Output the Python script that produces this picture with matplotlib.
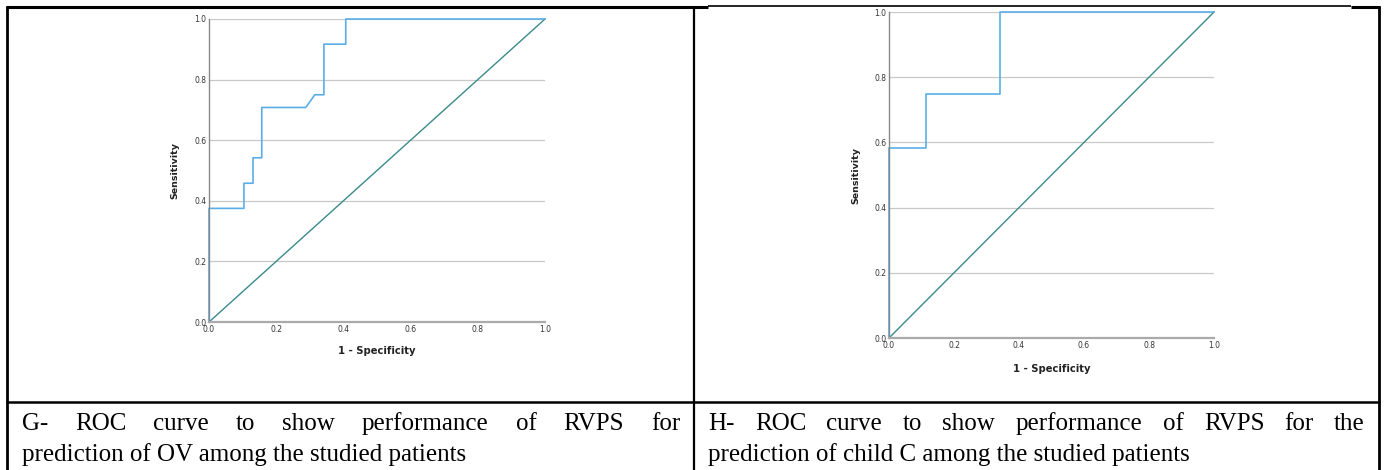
import matplotlib
matplotlib.use("Agg")
import matplotlib.pyplot as plt

W, H = 1384, 470

# ROC G: RVPS for prediction of OV
fpr_g = [0.0, 0.0, 0.104, 0.104, 0.131, 0.131, 0.157, 0.157, 0.288, 0.315, 0.342, 0.342, 0.407, 0.407, 1.0]
tpr_g = [0.0, 0.375, 0.375, 0.458, 0.458, 0.542, 0.542, 0.708, 0.708, 0.75, 0.75, 0.917, 0.917, 1.0, 1.0]

# ROC H: RVPS for prediction of child C
fpr_h = [0.0, 0.0, 0.114, 0.114, 0.342, 0.342, 1.0]
tpr_h = [0.0, 0.583, 0.583, 0.75, 0.75, 1.0, 1.0]

ticks = [0.0, 0.2, 0.4, 0.6, 0.8, 1.0]
tick_labels = ["0.0", "0.2", "0.4", "0.6", "0.8", "1.0"]

caption_g = ["G- ROC curve to show performance of RVPS for",
             "prediction of OV among the studied patients"]
caption_h = ["H- ROC curve to show performance of RVPS for the",
             "prediction of child C among the studied patients"]

fig = plt.figure(figsize=(W / 100, H / 100), dpi=100)

# overlay in pixel coords for the table and captions
ov = fig.add_axes([0, 0, 1, 1])
ov.set_xlim(0, W)
ov.set_ylim(H, 0)
ov.axis("off")


def roc_axes(box, fpr, tpr, ylab_x, xlab_y):
    l, t, r, b = box
    ax = fig.add_axes([l / W, 1 - b / H, (r - l) / W, (b - t) / H])
    ax.set_xlim(0, 1)
    ax.set_ylim(0, 1)
    ax.set_xticks(ticks)
    ax.set_xticklabels(tick_labels)
    ax.set_yticks(ticks)
    ax.set_yticklabels(tick_labels)
    ax.tick_params(length=0, labelsize=5.5, labelcolor="#333333", pad=2)
    ax.grid(axis="y", color="#c8c8c8", lw=0.9)
    ax.set_axisbelow(True)
    for s in ["top", "right"]:
        ax.spines[s].set_visible(False)
    ax.spines["left"].set_color("#888888")
    ax.spines["left"].set_linewidth(1.0)
    ax.spines["bottom"].set_color("#aaaaaa")
    ax.spines["bottom"].set_linewidth(1.6)
    ax.plot([0, 1], [0, 1], color="#3a8a8c", lw=1.0, clip_on=False)
    ax.plot(fpr, tpr, color="#5aaee8", lw=1.2, clip_on=False)
    ov.text(ylab_x, (t + b) / 2, "Sensitivity", rotation=90, ha="center", va="center",
            fontsize=6.8, fontweight="bold", color="#222222")
    ov.text((l + r) / 2, xlab_y, "1 - Specificity", ha="center", va="center",
            fontsize=7.2, fontweight="bold", color="#222222")
    return ax


roc_axes((209, 19, 545, 322), fpr_g, tpr_g, 175, 351)
roc_axes((889, 12, 1214, 338), fpr_h, tpr_h, 856, 369)

# table lines
lk = dict(color="black", solid_capstyle="butt")
ov.plot([6, 708], [7, 7], lw=2.2, **lk)
ov.plot([708, 1351], [6, 6], lw=1.2, **lk)
ov.plot([1351, 1380], [7, 7], lw=2.2, **lk)
ov.plot([7, 7], [6, 470], lw=2.0, **lk)
ov.plot([1379, 1379], [6, 470], lw=2.0, **lk)
ov.plot([693.5, 693.5], [6, 470], lw=1.6, **lk)
ov.plot([6, 1380], [402, 402], lw=1.8, **lk)

# captions
fs = 18
fam = "Liberation Serif"
renderer = fig.canvas.get_renderer()


def justified(line, x0, x1, y):
    words = line.split()
    texts = [ov.text(x0, y, w, fontsize=fs, family=fam, va="baseline") for w in words]
    widths = [t.get_window_extent(renderer).width for t in texts]
    gap = (x1 - x0 - sum(widths)) / (len(words) - 1)
    x = x0
    for t, w in zip(texts, widths):
        t.set_x(x)
        x += w + gap


justified(caption_g[0], 22, 680, 430)
ov.text(22, 461, caption_g[1], fontsize=fs, family=fam, va="baseline")
justified(caption_h[0], 708, 1365, 430)
ov.text(708, 461, caption_h[1], fontsize=fs, family=fam, va="baseline")

fig.savefig("out.png", dpi=100)
